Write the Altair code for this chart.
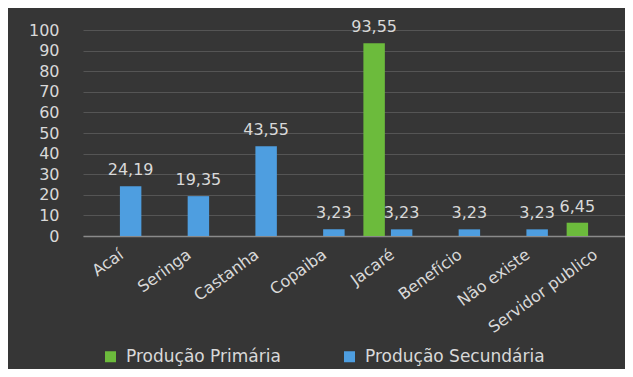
import altair as alt
import pandas as pd

categories = ["Acaí", "Seringa", "Castanha", "Copaiba", "Jacaré",
              "Benefício", "Não existe", "Servidor publico"]
series = ["Produção Primária", "Produção Secundária"]
primaria = [None, None, None, None, 93.55, None, None, 6.45]
secundaria = [24.19, 19.35, 43.55, 3.23, 3.23, 3.23, 3.23, None]
colors = ["#6cbb3c", "#4e9ee0"]

rows = []
for cat, p, s in zip(categories, primaria, secundaria):
    for name, v in ((series[0], p), (series[1], s)):
        if v is not None:
            rows.append({"cat": cat, "serie": name, "v": v,
                         "label": f"{v:.2f}".replace(".", ",")})
df = pd.DataFrame(rows)

FONT = "DejaVu Sans"
TXT = "#d9d9d9"

x = alt.X("cat:N", sort=categories, title=None,
          scale=alt.Scale(domain=categories, paddingInner=0.277, paddingOuter=0.1385),
          axis=alt.Axis(labelAngle=-36, labelAlign="right", labelBaseline="top",
                        labelFontSize=16, labelColor=TXT, labelFont=FONT,
                        ticks=False, domainColor="#8a8a8a", domainWidth=1.5,
                        labelPadding=10, grid=False))
xo = alt.XOffset("serie:N", scale=alt.Scale(domain=series, paddingInner=0.22, paddingOuter=0))
y = alt.Y("v:Q", title=None,
          scale=alt.Scale(domain=[0, 100], nice=False),
          axis=alt.Axis(values=list(range(0, 101, 10)), labelFontSize=16, labelColor=TXT,
                        labelFont=FONT, ticks=False, domain=False, labelPadding=24,
                        gridColor="#555555", gridWidth=1))
color = alt.Color("serie:N", scale=alt.Scale(domain=series, range=colors),
                  legend=alt.Legend(title=None, orient="none", direction="horizontal",
                                    legendX=19, legendY=318, symbolType="square",
                                    symbolSize=121, symbolStrokeWidth=0,
                                    labelFontSize=17, labelColor=TXT, labelFont=FONT,
                                    labelLimit=0, labelOffset=7, columnPadding=60,
                                    padding=0))

bars = alt.Chart(df).mark_bar().encode(x=x, xOffset=xo, y=y, color=color)
labels = alt.Chart(df).mark_text(baseline="alphabetic", dy=-11, fontSize=16,
                                 font=FONT, color=TXT).encode(
    x=x, xOffset=xo, y=y, text="label:N")

chart = (bars + labels).properties(
    width=542, height=206, background="#363636",
    padding={"left": 75, "top": 22, "right": 0, "bottom": 133},
    autosize=alt.AutoSizeParams(type="none"),
).configure_view(stroke=None)

chart.save("out.html", embed_options={"renderer": "svg", "actions": False})
